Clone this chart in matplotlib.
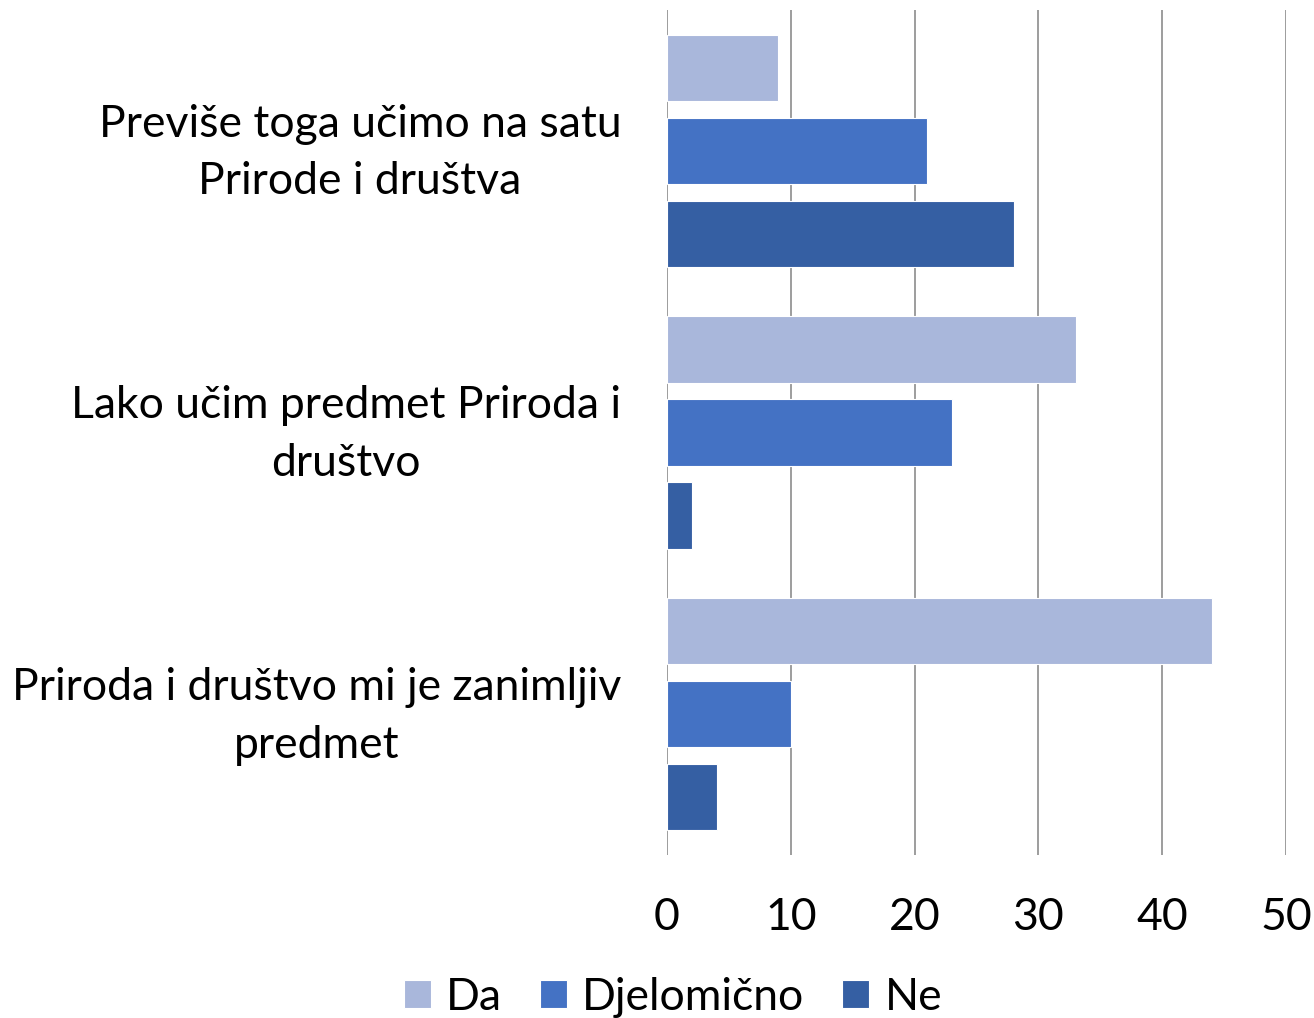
import numpy as np
import matplotlib
matplotlib.use('Agg')
import matplotlib.pyplot as plt

plt.rcParams['font.family'] = ['Lato', 'DejaVu Sans']

# categories from bottom to top
categories = ['Priroda i društvo mi je zanimljiv\npredmet',
              'Lako učim predmet Priroda i\ndruštvo',
              'Previše toga učimo na satu\nPrirode i društva']
series_names = ['Da', 'Djelomično', 'Ne']
da = [44, 33, 9]
djelomicno = [10, 23, 21]
ne = [4, 2, 28]
colors = ['#A9B7DB', '#4472C4', '#355FA3']

fig = plt.figure(figsize=(13.14, 10.18), dpi=100)
ax = fig.add_axes([667/1314, 1-855/1018, (1286-667)/1314, (855-10)/1018])

y = np.arange(len(categories))
step = 0.295
h = 0.235
for vals, off, c, name in zip([da, djelomicno, ne], [step, 0, -step], colors, series_names):
    ax.barh(y + off, vals, height=h, color=c, label=name,
            edgecolor='white', linewidth=0.8, zorder=3)

ax.set_xlim(0, 50)
ax.set_ylim(-0.5, 2.5)
ax.set_xticks(range(0, 51, 10))
ax.set_yticks(y + 0.036)
ax.set_yticklabels(categories, multialignment='center', linespacing=1.5)
ax.tick_params(axis='y', length=0, pad=33, labelsize=32)
ax.tick_params(axis='x', length=0, pad=30, labelsize=32)
ax.grid(axis='x', color='#8c8c8c', linewidth=1.2, zorder=0)
for s in ax.spines.values():
    s.set_visible(False)

leg = fig.legend(loc='center', ncol=3, frameon=False, fontsize=32,
                 handlelength=0.6, handleheight=0.6,
                 handletextpad=0.35, columnspacing=0.85)
leg.set_bbox_to_anchor((673/1314, 1-997/1018), transform=fig.transFigure)

fig.savefig('out.png', dpi=100)
